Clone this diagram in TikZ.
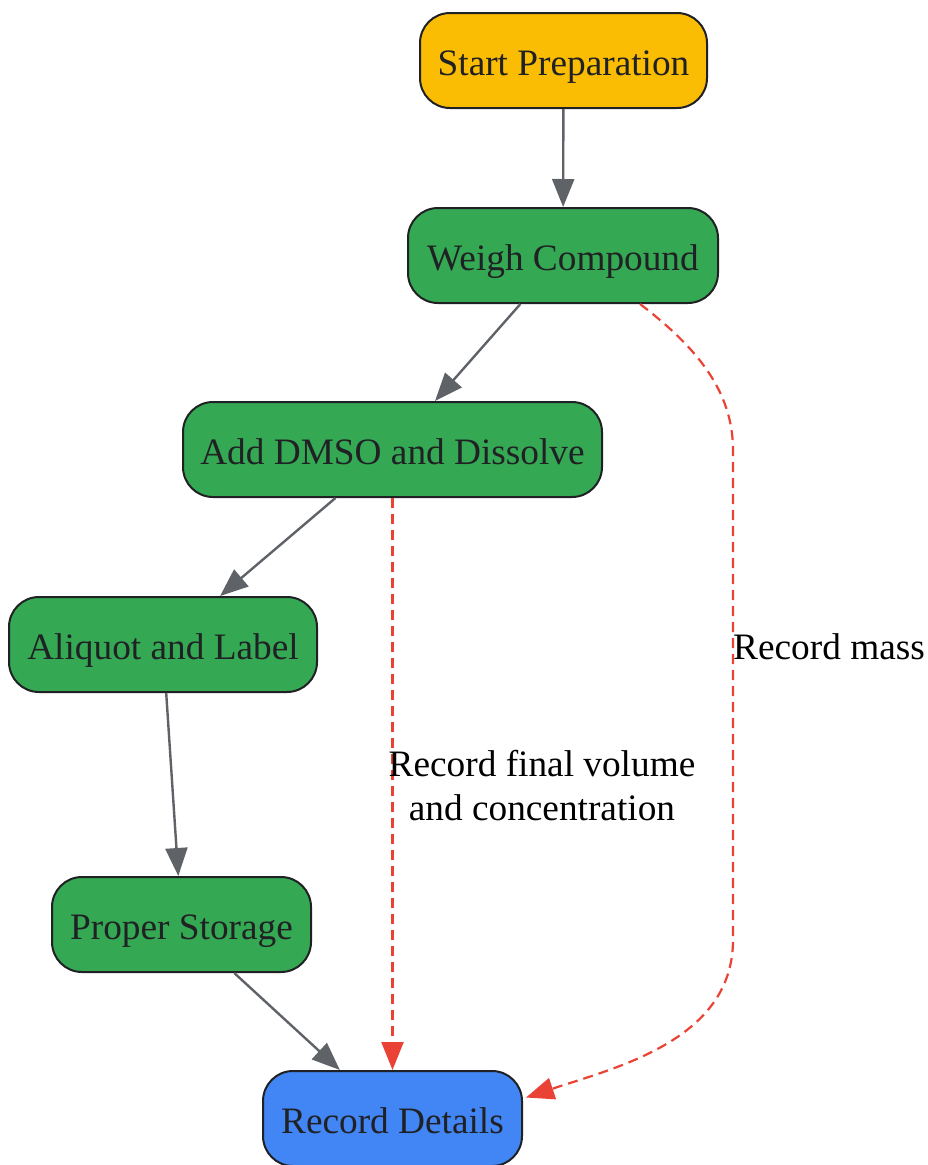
\documentclass[tikz,border=0pt]{standalone}
\usepackage{fontspec}
\setmainfont{Liberation Serif}
\usetikzlibrary{arrows.meta}
\definecolor{cyellow}{HTML}{FBBC04}
\definecolor{cgreen}{HTML}{34A853}
\definecolor{cblue}{HTML}{4285F4}
\definecolor{cborder}{HTML}{202124}
\definecolor{cgray}{HTML}{5F6368}
\definecolor{cred}{HTML}{EA4335}
\begin{document}
\begin{tikzpicture}[x=1pt,y=-1pt,
  box/.style={draw=cborder,line width=2pt,rounded corners=30pt,minimum height=95pt,
    inner sep=0pt,text=cborder,text height=37pt,text depth=8pt,font=\fontsize{37.3}{44}\selectfont},
  flow/.style={draw=cgray,line width=2.4pt,-{Triangle[length=28pt,width=22pt]}},
  rec/.style={draw=cred,line width=2.2pt,dash pattern=on 10pt off 6pt,-{Triangle[length=28pt,width=22pt]}},
  lbl/.style={font=\fontsize{37.3}{44}\selectfont,text=black,align=center,inner sep=0pt}]
\useasboundingbox (0,0) rectangle (927,1165);
\node[box,fill=cyellow,minimum width=287pt] (s) at (563.5,60.5) {Start Preparation};
\node[box,fill=cgreen,minimum width=310pt] (w) at (563,255.5) {Weigh Compound};
\node[box,fill=cgreen,minimum width=419pt] (a) at (392.5,449.5) {Add DMSO and Dissolve};
\node[box,fill=cgreen,minimum width=308pt] (q) at (163,644.5) {Aliquot and Label};
\node[box,fill=cgreen,minimum width=259pt] (p) at (181.5,924.5) {Proper Storage};
\node[box,fill=cblue,minimum width=259pt] (r) at (392.5,1118.5) {Record Details};
\draw[flow] (s) -- (w);
\draw[flow] (w) -- (a);
\draw[flow] (a) -- (q);
\draw[flow] (q) -- (p);
\draw[flow] (p) -- (r);
\draw[rec] (a) -- (r);
\draw[rec] ([xshift=77pt]w.south) .. controls +(55,42) and +(0,-60) .. (733,450)
  -- (733,940) .. controls +(0,100) and +(90,-30) .. ([xshift=3pt,yshift=21pt]r.east);
\node[lbl,anchor=west] (lm) at (733,647) {Record mass};
\node[lbl] (lv) at (542,786) {Record final volume\\and concentration};
\end{tikzpicture}
\end{document}
